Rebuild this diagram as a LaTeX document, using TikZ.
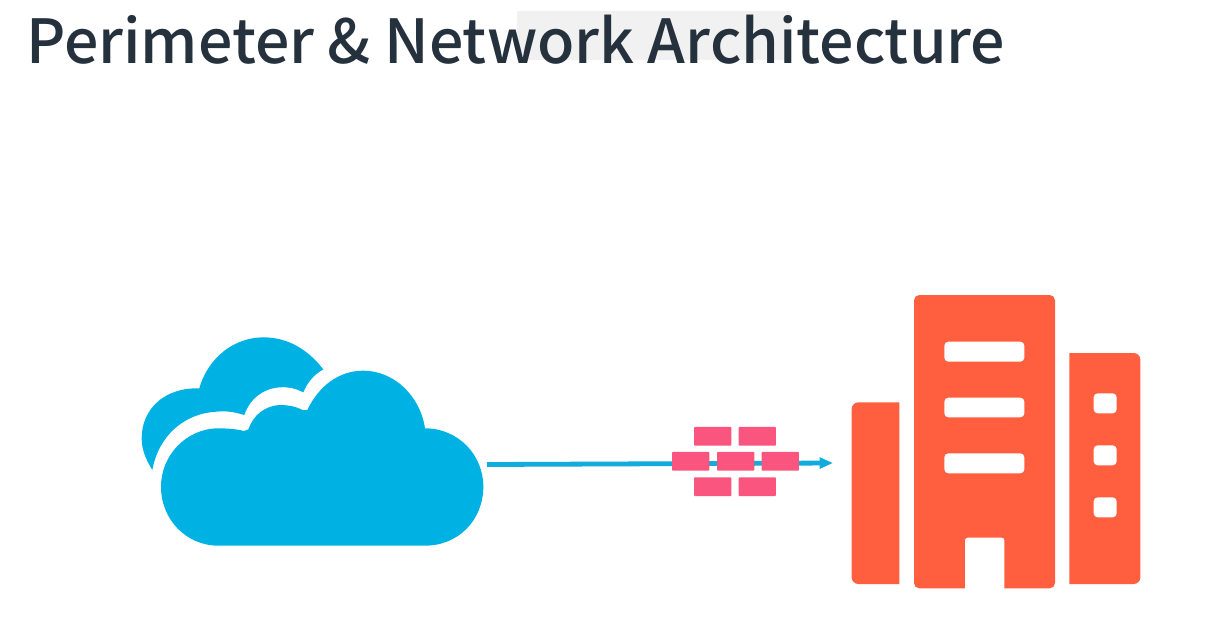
\documentclass[tikz,border=0pt]{standalone}
\usepackage{fontspec}
\setmainfont{Noto Sans}
\newfontfamily\titlefont{Noto Sans CJK SC Medium}
\usetikzlibrary{arrows.meta}
\definecolor{cloudblue}{HTML}{00B2E3}
\definecolor{linkblue}{HTML}{12ACDC}
\definecolor{brickpink}{HTML}{F9557F}
\definecolor{bldorange}{HTML}{FF5F3E}
\definecolor{titleink}{HTML}{25313D}
\definecolor{overlaygrey}{HTML}{F1F1F1}
\tikzset{
  brick/.style={draw=none,fill=brickpink,minimum width=28pt,minimum height=14pt,inner sep=0pt,rounded corners=0.6pt},
  bld/.style={fill=bldorange,draw=none},
  hole/.style={fill=white,draw=none,rounded corners=3pt},
  link/.style={draw=linkblue,line width=3.6pt,-{Triangle[length=10pt,width=8pt,fill=linkblue]}}
}
\begin{document}
\begin{tikzpicture}[x=0.75pt,y=-0.75pt]
\useasboundingbox (0,0) rectangle (1231,626);
\fill[white] (0,0) rectangle (1231,626);
\fill[overlaygrey] (517,11) rectangle (791,60);
\node[anchor=base west,inner sep=0pt,text=titleink,font=\titlefont\fontsize{45.6pt}{52pt}\selectfont,name=title] at (26,63) {Perimeter \& Network Architecture};
% clouds
\begin{scope}[shift={(130,330)},x=0.25pt,y=-0.25pt]
\fill[cloudblue] (67,420) .. controls (45,385) and (35,355) .. (35,325)
  .. controls (35,240) and (100,172) .. (208,175)
  .. controls (235,80) and (315,22) .. (400,22)
  .. controls (475,22) and (535,60) .. (580,118)
  .. controls (550,135) and (532,158) .. (520,187)
  .. controls (495,175) and (475,170) .. (450,172)
  .. controls (400,175) and (360,205) .. (343,255)
  .. controls (310,245) and (285,242) .. (260,245)
  .. controls (160,250) and (85,320) .. (67,420) -- cycle;
\fill[cloudblue] (265,647) -- (885,647)
  .. controls (985,647) and (1060,570) .. (1060,470)
  .. controls (1060,375) and (985,295) .. (885,295)
  .. controls (870,195) and (790,122) .. (700,122)
  .. controls (625,122) and (565,170) .. (532,240)
  -- (518,240)
  .. controls (500,230) and (475,225) .. (450,225)
  .. controls (405,227) and (370,255) .. (355,298)
  -- (342,303)
  .. controls (320,297) and (290,295) .. (265,295)
  .. controls (170,295) and (93,375) .. (93,470)
  .. controls (93,570) and (170,647) .. (265,647) -- cycle;
\end{scope}
% connector and firewall
\coordinate (linkstart) at (487,464.5);
\coordinate (linkend) at (833,463);
\draw[link] (linkstart) -- (linkend);
\node[brick] (b1) at (712.7,436.3) {};
\node[brick] (b2) at (757.3,436.3) {};
\node[brick] (b3) at (690.7,461.3) {};
\node[brick] (b4) at (735.7,461.3) {};
\node[brick] (b5) at (780.3,461.3) {};
\node[brick] (b6) at (712.7,486.7) {};
\node[brick] (b7) at (757.3,486.7) {};
% buildings
\begin{scope}[shift={(840,285)},x=0.25pt,y=-0.25pt]
\fill[bld] (178,352) -- (55,352) .. controls (44,352) and (35,361) .. (35,372) -- (35,877) .. controls (35,888) and (44,897) .. (55,897) -- (178,897) -- cycle;
\fill[bld,rounded corners=4pt] (222,30) rectangle (645,910);
\fill[white,rounded corners=2pt] (375,925) -- (375,758) -- (493,758) -- (493,925) -- cycle;
\fill[white] (370,911) rectangle (498,925);
\fill[hole] (313,170) rectangle (553,230);
\fill[hole] (313,338) rectangle (553,397);
\fill[hole] (313,505) rectangle (553,565);
\fill[bld] (688,204) -- (881,204) .. controls (892,204) and (901,213) .. (901,224) -- (901,877) .. controls (901,888) and (892,897) .. (881,897) -- (688,897) -- cycle;
\fill[hole] (761,325) rectangle (830,385);
\fill[hole] (761,481) rectangle (830,541);
\fill[hole] (761,637) rectangle (830,697);
\end{scope}
\end{tikzpicture}
\end{document}
